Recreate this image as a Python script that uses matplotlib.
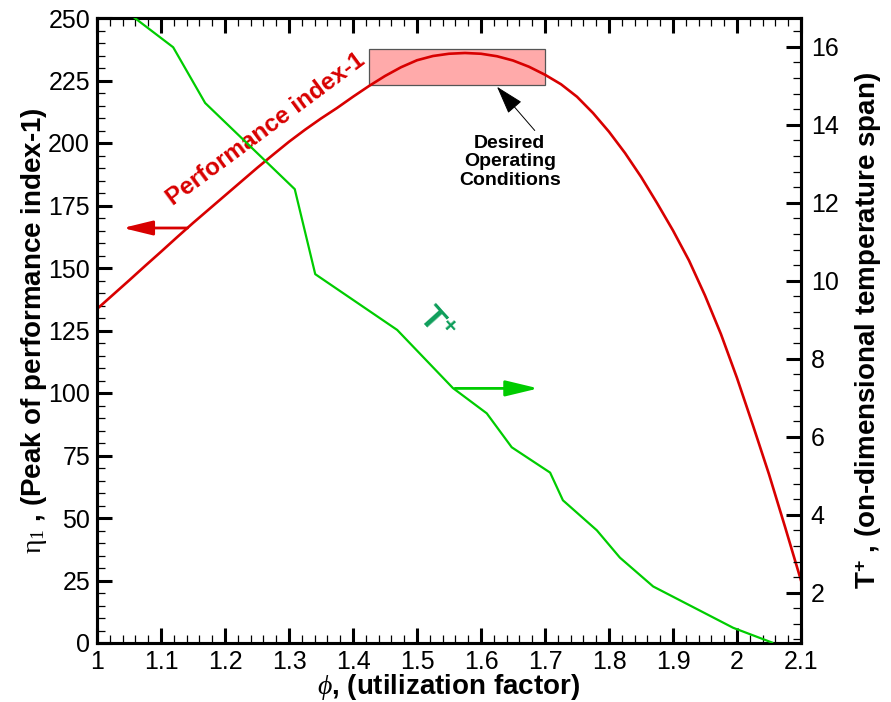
import matplotlib
matplotlib.use("Agg")
import matplotlib.pyplot as plt
from matplotlib.ticker import MultipleLocator, FixedLocator
from matplotlib.patches import Rectangle

plt.rcParams['font.family'] = ['Liberation Sans', 'DejaVu Sans']
plt.rcParams['mathtext.fontset'] = 'custom'
plt.rcParams['mathtext.rm'] = 'Liberation Serif'
plt.rcParams['mathtext.it'] = 'Liberation Serif:italic'
plt.rcParams['mathtext.bf'] = 'Liberation Sans:bold'

# ---- data ----
phi_eta = [1.0, 1.025, 1.05, 1.075, 1.1, 1.125, 1.15, 1.175, 1.2, 1.225, 1.25, 1.275,
           1.3, 1.325, 1.35, 1.375, 1.4, 1.425, 1.45, 1.475, 1.5, 1.525, 1.55, 1.575,
           1.6, 1.625, 1.65, 1.675, 1.7, 1.725, 1.75, 1.775, 1.8, 1.825, 1.85, 1.875,
           1.9, 1.925, 1.95, 1.975, 2.0, 2.025, 2.05, 2.075, 2.1]
eta1 = [133.6, 139.3, 145, 150.8, 156.5, 162.3, 168, 173.5, 179, 184.5, 190, 195.3,
        200.5, 205.3, 209.8, 214, 218.5, 222.8, 226.8, 230.3, 233.1, 234.8, 235.7, 236,
        235.7, 234.7, 233, 230.5, 227.3, 223.5, 218.5, 212, 204.5, 196, 186.5, 176,
        165, 153, 139, 123.5, 106, 87, 67.5, 46.5, 25]

phi_T = [1.059, 1.119, 1.169, 1.309, 1.341, 1.469, 1.556, 1.609, 1.648, 1.708,
         1.728, 1.781, 1.817, 1.869, 1.994, 2.055]
T_plus = [16.74, 15.99, 14.56, 12.35, 10.17, 8.74, 7.25, 6.6, 5.73, 5.08,
          4.37, 3.6, 2.9, 2.16, 1.1, 0.72]

x_ticks = [1.0, 1.1, 1.2, 1.3, 1.4, 1.5, 1.6, 1.7, 1.8, 1.9, 2.0, 2.1]
x_ticklabels = ["1", "1.1", "1.2", "1.3", "1.4", "1.5", "1.6", "1.7", "1.8", "1.9", "2", "2.1"]
yl_ticks = [0, 25, 50, 75, 100, 125, 150, 175, 200, 225, 250]
yr_ticks = [2, 4, 6, 8, 10, 12, 14, 16]

# desired operating region (phi range, eta range)
region_phi = [1.425, 1.70]
region_eta = [223.2, 237.6]

red = '#D80000'
green = '#00CC00'
dgreen = '#0E9E5A'

fig = plt.figure(figsize=(8.91, 7.02), dpi=100)
ax = fig.add_axes([97/891, 1-643/702, (801-97)/891, (643-18)/702])
ax2 = ax.twinx()

ax.set_xlim(1.0, 2.1)
ax.set_ylim(0, 250)
ax2.set_ylim(0.71, 16.74)

# region rectangle
ax.add_patch(Rectangle((region_phi[0], region_eta[0]), region_phi[1]-region_phi[0],
                       region_eta[1]-region_eta[0], facecolor='#FFAAAA',
                       edgecolor='#555555', lw=0.9, zorder=1))

ax.plot(phi_eta, eta1, color=red, lw=1.9, zorder=3)
ax2.plot(phi_T, T_plus, color=green, lw=1.6, zorder=3)

# ticks
ax.xaxis.set_major_locator(FixedLocator(x_ticks))
ax.set_xticklabels(x_ticklabels)
ax.xaxis.set_minor_locator(MultipleLocator(0.02))
ax.yaxis.set_major_locator(FixedLocator(yl_ticks))
ax.yaxis.set_minor_locator(MultipleLocator(5))
ax2.yaxis.set_major_locator(FixedLocator(yr_ticks))
ax2.yaxis.set_minor_locator(MultipleLocator(0.4))

for a in (ax, ax2):
    for s in a.spines.values():
        s.set_linewidth(2.2)
ax.tick_params(axis='both', which='major', direction='in', length=11, width=2.2,
               labelsize=18, top=True, right=False, pad=5)
ax.tick_params(axis='both', which='minor', direction='in', length=6, width=0.9,
               top=True, right=False)
ax.tick_params(axis='x', which='major', pad=5)
ax2.tick_params(axis='y', which='major', direction='in', length=11, width=2.2,
                labelsize=18, left=False, pad=7)
ax2.tick_params(axis='y', which='minor', direction='in', length=6, width=0.9, left=False)

ax.set_xlabel(r"$\phi$, (utilization factor)", fontsize=20, fontweight='bold')
ax.xaxis.set_label_coords(0.5, -0.046)
ax.set_ylabel(r"$\mathrm{\eta}_{1}$ , (Peak of performance index-1)", fontsize=20,
              fontweight='bold')
ax.yaxis.set_label_coords(-0.068, 0.5)
ax2.set_ylabel(r"T$^{\mathbf{+}}$ , (on-dimensional temperature span)", fontsize=20,
               fontweight='bold')
ax2.yaxis.set_label_coords(1.075, 0.5)

# annotations
ax.text(1.118, 175, "Performance index-1", color=red, fontsize=17.5, fontweight='bold',
        rotation=36.5, ha='left', va='baseline', rotation_mode='anchor')
ax.annotate('', xy=(1.036, 166), xytext=(1.146, 166),
            arrowprops=dict(arrowstyle='-|>,head_length=0.9,head_width=0.22',
                            mutation_scale=20, lw=2.0, color=red))
ax2.annotate('', xy=(1.694, 7.24), xytext=(1.555, 7.24),
             arrowprops=dict(arrowstyle='-|>,head_length=1.0,head_width=0.24',
                             mutation_scale=20, lw=2.0, color=green))
ax.text(1.528, 127, r"T$^{\mathbf{+}}$", color=dgreen, fontsize=24, fontweight='bold',
        rotation=-48, ha='center', va='center', rotation_mode='anchor')

ax.text(1.645, 192.4, "Desired\nOperating\nConditions", ha='center', va='center',
        fontsize=14, fontweight='bold', linespacing=1.1)
ax.annotate('', xy=(1.625, 222.5), xytext=(1.684, 205),
            arrowprops=dict(arrowstyle='-|>,head_length=0.9,head_width=0.28',
                            mutation_scale=20, lw=0.7, color='black',
                            shrinkA=0, shrinkB=0))

fig.savefig("out.png", dpi=100)
